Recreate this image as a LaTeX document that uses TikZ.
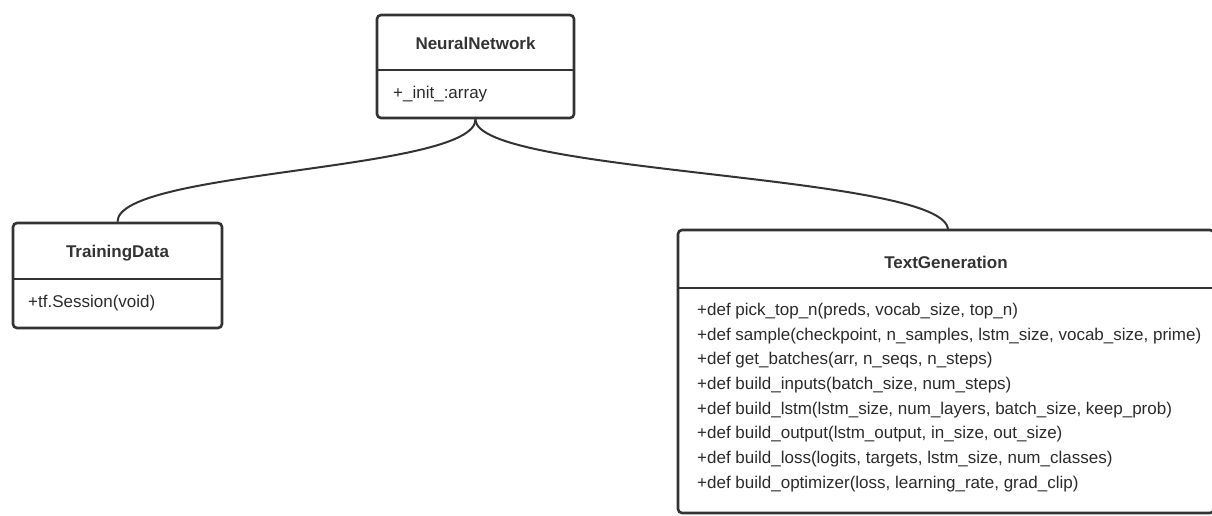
\documentclass[tikz,border=0pt]{standalone}
\usepackage{fontspec}
\setmainfont{Liberation Sans}
\definecolor{stroke}{HTML}{333333}
\definecolor{txt}{HTML}{2B2B2B}
\begin{document}
\begin{tikzpicture}[x=1pt,y=-1pt,
  umlbox/.style={draw=stroke, line width=2.6pt, rounded corners=4pt, inner sep=0pt, fill=none},
  divider/.style={draw=stroke, line width=2.2pt},
  title/.style={font=\fontsize{17}{20}\selectfont\bfseries, text=stroke, inner sep=0pt},
  member/.style={font=\fontsize{17}{20}\selectfont, text=txt, anchor=west, inner sep=0pt},
  link/.style={draw=stroke, line width=2pt}]
\useasboundingbox (0,0) rectangle (1212,515);

% NeuralNetwork
\node[umlbox, minimum width=197pt, minimum height=103pt] (nn) at (475.5,66.5) {};
\coordinate (nnl) at (377,70);
\coordinate (nnr) at (574,70);
\draw[divider] (nnl) -- (nnr);
\node[title] (nnt) at (475.5,43) {NeuralNetwork};
\node[member] (nna) at (393,94) {+\_init\_:array};

% TrainingData
\node[umlbox, minimum width=209pt, minimum height=105pt] (td) at (117.5,275.5) {};
\coordinate (tdl) at (13,279);
\coordinate (tdr) at (222,279);
\draw[divider] (tdl) -- (tdr);
\node[title] (tdt) at (117.5,253) {TrainingData};
\node[member] (tda) at (28,303) {+tf.Session(void)};

% TextGeneration
\node[umlbox, minimum width=536pt, minimum height=283pt] (tg) at (946,371.5) {};
\coordinate (tgl) at (678,288);
\coordinate (tgr) at (1214,288);
\draw[divider] (tgl) -- (tgr);
\node[title] (tgt) at (946,262) {TextGeneration};
\node[member] (m1) at (697,311) {+def pick\_top\_n(preds, vocab\_size, top\_n)};
\node[member] (m2) at (697,335.7) {+def sample(checkpoint, n\_samples, lstm\_size, vocab\_size, prime)};
\node[member] (m3) at (697,360.4) {+def get\_batches(arr, n\_seqs, n\_steps)};
\node[member] (m4) at (697,385.1) {+def build\_inputs(batch\_size, num\_steps)};
\node[member] (m5) at (697,409.8) {+def build\_lstm(lstm\_size, num\_layers, batch\_size, keep\_prob)};
\node[member] (m6) at (697,434.5) {+def build\_output(lstm\_output, in\_size, out\_size)};
\node[member] (m7) at (697,459.2) {+def build\_loss(logits, targets, lstm\_size, num\_classes)};
\node[member] (m8) at (697,483.9) {+def build\_optimizer(loss, learning\_rate, grad\_clip)};

% connectors
\coordinate (tgn) at (948,230);
\draw[link] (nn.south) .. controls +(0,52) and +(0,-52) .. (td.north);
\draw[link] (nn.south) .. controls +(0,55) and +(0,-56) .. (tgn);
\end{tikzpicture}
\end{document}
